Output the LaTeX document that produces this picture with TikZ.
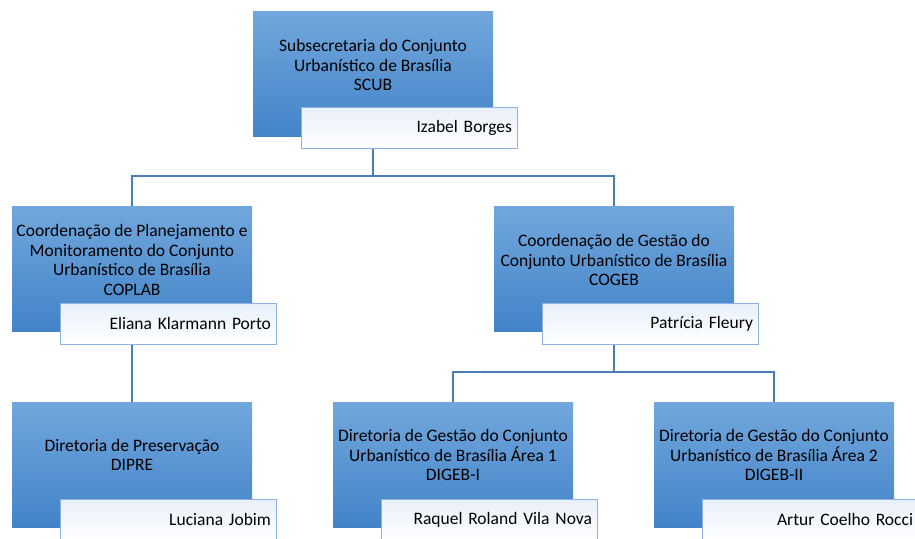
\documentclass[tikz,border=0pt]{standalone}
\usepackage{fontspec}
\setmainfont{Carlito}
\usepackage{tikz}
\usetikzlibrary{calc}

\definecolor{boxtop}{HTML}{72A7DD}
\definecolor{boxbot}{HTML}{4283C8}
\definecolor{linkblue}{HTML}{4A7DB5}
\definecolor{nameline}{HTML}{8DB3E2}
\definecolor{namefill}{HTML}{E8F0FA}

\tikzset{
  unit/.style={rectangle, minimum width=240pt, minimum height=125pt, inner sep=0pt,
    top color=boxtop, bottom color=boxbot, draw=none},
  title/.style={align=center, inner sep=0pt, font=\fontsize{17.5}{19.5}\selectfont},
  namebox/.style={rectangle, minimum width=216pt, minimum height=41pt, text width=206pt,
    align=right, inner sep=5pt, draw=nameline, line width=1pt,
    top color=namefill, bottom color=white, font=\fontsize{17.5}{19.5}\selectfont},
  link/.style={draw=linkblue, line width=2pt}
}

\begin{document}
\begin{tikzpicture}[x=1pt, y=-1pt]
    \useasboundingbox (0,0) rectangle (915,538);

    % top level
    \node[unit] (scub) at (373, 73.5) {};
    \node[title] (scubt) at (373, 65) {Subsecretaria do Conjunto\\Urbanístico de Brasília\\SCUB};
    \node[namebox] (scubn) at (409, 127.5) {Izabel Borges};

    % coordinations
    \node[unit] (coplab) at (132, 268.5) {};
    \node[title] (coplabt) at (132, 260) {Coordenação de Planejamento e\\Monitoramento do Conjunto\\Urbanístico de Brasília\\COPLAB};
    \node[namebox] (coplabn) at (168, 323.5) {Eliana Klarmann Porto};

    \node[unit] (cogeb) at (614, 268.5) {};
    \node[title] (cogebt) at (614, 260) {Coordenação de Gestão do\\Conjunto Urbanístico de Brasília\\COGEB};
    \node[namebox] (cogebn) at (650, 323.5) {Patrícia Fleury};

    % directorates
    \node[unit] (dipre) at (132, 464.5) {};
    \node[title] (dipret) at (132, 455) {Diretoria de Preservação\\DIPRE};
    \node[namebox] (dipren) at (168, 519.5) {Luciana Jobim};

    \node[unit] (digeba) at (453, 464.5) {};
    \node[title] (digebat) at (453, 455) {Diretoria de Gestão do Conjunto\\Urbanístico de Brasília Área 1\\DIGEB-I};
    \node[namebox] (digeban) at (489, 519.5) {Raquel Roland Vila Nova};

    \node[unit] (digebb) at (774, 464.5) {};
    \node[title] (digebbt) at (774, 455) {Diretoria de Gestão do Conjunto\\Urbanístico de Brasília Área 2\\DIGEB-II};
    \node[namebox] (digebbn) at (810, 519.5) {Artur Coelho Rocci};

    % connectors
    \coordinate (busa) at (373, 176);
    \coordinate (busb) at (614, 372);
    \draw[link] (scubn.south -| scub) -- (busa) -| (coplab.north);
    \draw[link] (busa) -| (cogeb.north);
    \draw[link] (coplabn.south -| coplab) -- (dipre.north);
    \draw[link] (cogebn.south -| cogeb) -- (busb) -| (digeba.north);
    \draw[link] (busb) -| (digebb.north);
\end{tikzpicture}
\end{document}
